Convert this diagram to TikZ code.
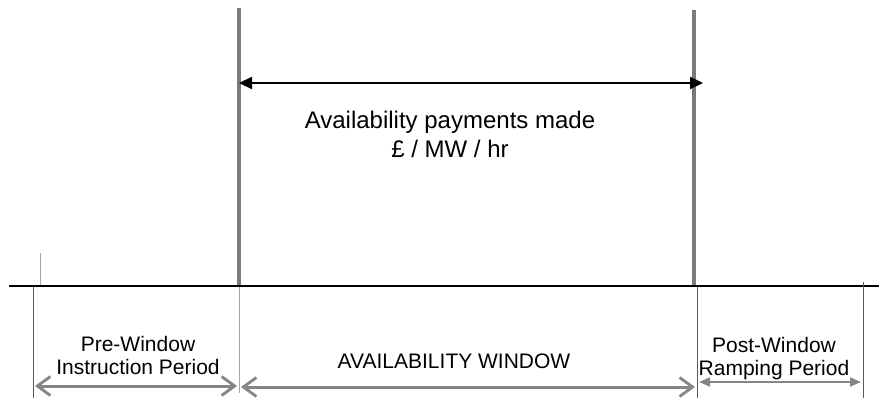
\documentclass[tikz,border=0pt]{standalone}
\usepackage{fontspec}
\setmainfont{Liberation Sans}
\usetikzlibrary{arrows.meta}
\definecolor{bargray}{HTML}{7A7A7A}
\definecolor{arrowgray}{HTML}{858585}
\definecolor{tickgray}{HTML}{5A5A5A}
\begin{document}
\begin{tikzpicture}[x=1pt,y=-1pt,
  windowbar/.style={draw=bargray,line width=4.5pt},
  axisline/.style={draw=black,line width=2.5pt},
  tickline/.style={draw=tickgray,line width=0.9pt},
  payarrow/.style={draw=black,line width=2.2pt,
    {Triangle[length=13pt,width=12pt]}-{Triangle[length=13pt,width=12pt]}},
  spanarrow/.style={draw=arrowgray,line width=3pt,
    {Straight Barb[length=13pt,width=19pt,line width=2.8pt]}-{Straight Barb[length=13pt,width=19pt,line width=2.8pt]}},
  smallspan/.style={draw=arrowgray,line width=1.6pt,
    {Triangle[length=11pt,width=9pt]}-{Triangle[length=11pt,width=9pt]}},
  bigtext/.style={font=\fontsize{24}{29}\selectfont,align=center,inner sep=0pt,anchor=base},
  smalltext/.style={font=\fontsize{21}{22.5}\selectfont,align=center,inner sep=0pt,anchor=base}]
\useasboundingbox (0,0) rectangle (879,398);

% time axis
\coordinate (axL) at (9,286);
\coordinate (axR) at (879,286);
\draw[axisline] (axL) -- (axR);

% window boundaries
\coordinate (Ltop) at (239,8);
\coordinate (Lbot) at (239,285);
\coordinate (Rtop) at (694,10);
\coordinate (Rbot) at (694,285);
\draw[windowbar] (Ltop) -- (Lbot);
\draw[windowbar] (Rtop) -- (Rbot);

% payment span across the window (node base = baseline of the last line)
\coordinate (payL) at (239,83);
\coordinate (payR) at (703,83);
\draw[payarrow] (payL) -- (payR);
\node[bigtext] (paytext) at (450,158) {Availability payments made\\£ / MW / hr};

% period markers
\coordinate (m0a) at (40,253);
\coordinate (m0b) at (40,285);
\draw[draw=gray!70,line width=0.6pt] (m0a) -- (m0b);
\coordinate (m1a) at (33,287);
\coordinate (m1b) at (33,398);
\coordinate (m2a) at (239,287);
\coordinate (m2b) at (239,393);
\coordinate (m3a) at (697,287);
\coordinate (m3b) at (697,398);
\coordinate (m4a) at (863,282);
\coordinate (m4b) at (863,398);
\draw[tickline] (m1a) -- (m1b);
\draw[draw=gray!70,line width=0.9pt] (m2a) -- (m2b);
\draw[tickline] (m3a) -- (m3b);
\draw[tickline] (m4a) -- (m4b);

% period spans
\coordinate (preL) at (35,386);
\coordinate (preR) at (237,386);
\coordinate (winL) at (241,387);
\coordinate (winR) at (695,387);
\coordinate (postL) at (699,382);
\coordinate (postR) at (861,382);
\draw[spanarrow] (preL) -- (preR);
\draw[spanarrow] (winL) -- (winR);
\draw[smallspan] (postL) -- (postR);

\node[smalltext] (pretext) at (138,374) {Pre-Window\\Instruction Period};
\node[smalltext] (wintext) at (454,369) {AVAILABILITY WINDOW};
\node[smalltext] (posttext) at (774,375) {Post-Window\\Ramping Period};
\end{tikzpicture}
\end{document}
